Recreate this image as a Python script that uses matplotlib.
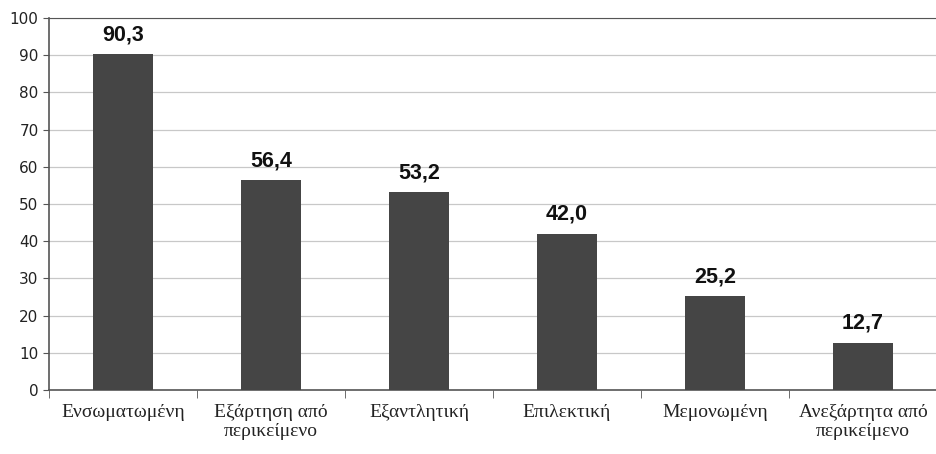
import matplotlib
matplotlib.use("Agg")
import matplotlib.pyplot as plt
import numpy as np

categories = ["Ενσωματωμένη", "Εξάρτηση από\nπερικείμενο", "Εξαντλητική",
              "Επιλεκτική", "Μεμονωμένη", "Ανεξάρτητα από\nπερικείμενο"]
values = [90.3, 56.4, 53.2, 42.0, 25.2, 12.7]
value_labels = ["90,3", "56,4", "53,2", "42,0", "25,2", "12,7"]
yticks = [0, 10, 20, 30, 40, 50, 60, 70, 80, 90, 100]

fig = plt.figure(figsize=(9.37, 4.54), dpi=100)
ax = fig.add_axes([49/937, 1 - 390/454, (937-49)/937, (390-18)/454])

x = np.arange(len(categories))
ax.bar(x, values, width=0.4, color="#454545", zorder=3)
for xi, v, lab in zip(x, values, value_labels):
    ax.text(xi, v + 2.4, lab, ha="center", va="bottom", fontsize=15.5,
            fontweight="bold", family="Liberation Sans", color="#111111")

ax.set_xlim(-0.5, len(categories) - 0.5)
ax.set_ylim(0, 100)
ax.set_yticks(yticks)
ax.set_yticklabels([str(t) for t in yticks], fontsize=11, color="#222222")
ax.yaxis.grid(True, color="#c8c8c8", linewidth=0.9, zorder=0)
ax.set_axisbelow(True)

ax.set_xticks(x)
ax.set_xticklabels(categories, fontsize=14, family="Liberation Serif", color="#222222",
                   linespacing=1.15)
ax.tick_params(axis="x", length=0, pad=10)
ax.set_xticks(np.arange(-0.5, len(categories), 1.0), minor=True)
ax.tick_params(axis="x", which="minor", length=6, color="#555555")
ax.tick_params(axis="y", length=4, color="#555555")

for s in ["left", "bottom"]:
    ax.spines[s].set_color("#555555")
    ax.spines[s].set_linewidth(1.2)
ax.spines["top"].set_color("#555555")
ax.spines["right"].set_visible(False)

fig.savefig("out.png", dpi=100)
